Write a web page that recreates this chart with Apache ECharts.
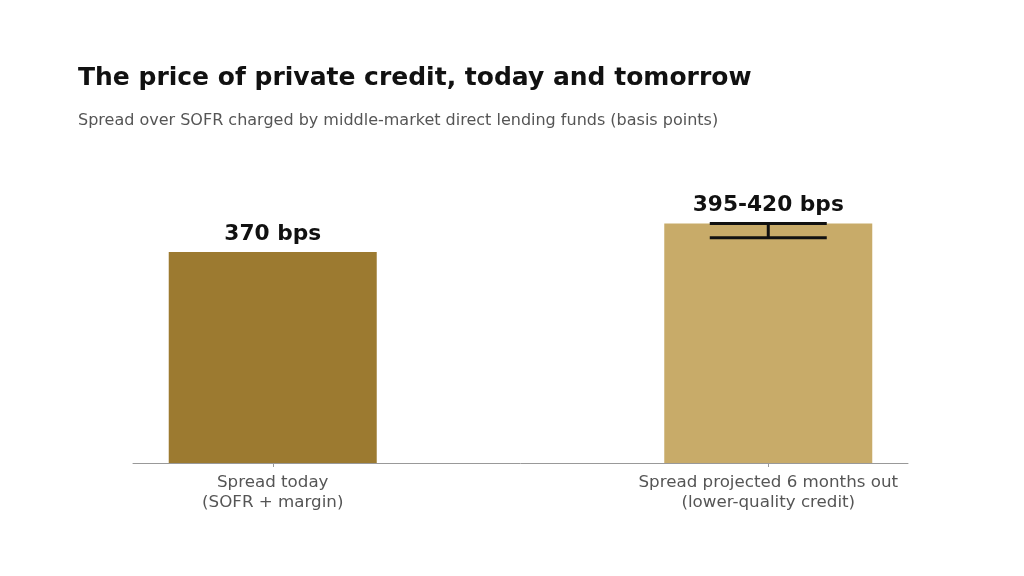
<!DOCTYPE html>
<html>
<head>
<meta charset="utf-8">
<script src="https://cdn.jsdelivr.net/npm/echarts@6/dist/echarts.min.js"></script>
<style>
  html, body { margin: 0; padding: 0; background: #fff; }
  #chart { width: 1024px; height: 576px; }
</style>
</head>
<body>
<div id="chart"></div>
<script>
// categories and values
var categories = ['Spread today\n(SOFR + margin)', 'Spread projected 6 months out\n(lower-quality credit)'];
var spreadValues = [370, 420];
var rangeLow = [null, 395];
var rangeHigh = [null, 420];
var barLabels = ['370 bps', '395-420 bps'];

var barColors = ['#9C7A30', '#C8AB69'];
var fontFamily = 'DejaVu Sans';

function initChart() {
    var myChart = echarts.init(document.getElementById('chart'));

    var barData = spreadValues.map(function (v, i) {
        return { value: [i, v], itemStyle: { color: barColors[i] } };
    });

    // error range only where a low/high pair exists
    var rangeData = [];
    for (var i = 0; i < categories.length; i++) {
        if (rangeLow[i] != null) rangeData.push([i, rangeLow[i], rangeHigh[i]]);
    }

    // small ticks under each bar centre, placed with the axis scale
    var tickData = categories.map(function (c, i) { return [i, 0]; });

    var option = {
        animation: false,
        backgroundColor: '#fff',
        textStyle: { fontFamily: fontFamily },
        title: [
            {
                text: 'The price of private credit, today and tomorrow',
                left: 73,
                top: 61,
                textStyle: { fontFamily: fontFamily, fontSize: 25, fontWeight: 'bold', color: '#111' }
            },
            {
                text: 'Spread over SOFR charged by middle-market direct lending funds (basis points)',
                left: 73,
                top: 108,
                textStyle: { fontFamily: fontFamily, fontSize: 16, fontWeight: 'normal', color: '#555' }
            }
        ],
        grid: {
            left: 133,
            right: 116,
            top: 178,
            bottom: 113
        },
        xAxis: {
            type: 'value',
            min: -0.282,
            max: 1.282,
            splitLine: { show: false },
            axisLine: { show: true, lineStyle: { color: '#999', width: 1 } },
            axisTick: { show: false },
            axisLabel: {
                customValues: [0, 1],
                formatter: function (v) { return categories[Math.round(v)]; },
                fontFamily: fontFamily,
                fontSize: 16.7,
                lineHeight: 20,
                color: '#555',
                margin: 10
            }
        },
        yAxis: {
            type: 'value',
            min: 0,
            max: 500,
            show: false,
            splitLine: { show: false }
        },
        series: [
            {
                type: 'bar',
                data: barData,
                barWidth: 208,
                label: {
                    show: true,
                    position: 'top',
                    distance: 7,
                    formatter: function (p) { return barLabels[p.dataIndex]; },
                    fontFamily: fontFamily,
                    fontSize: 21.7,
                    fontWeight: 'bold',
                    color: '#111'
                }
            },
            {
                type: 'custom',
                data: tickData,
                silent: true,
                clip: false,
                renderItem: function (params, api) {
                    var p = api.coord([api.value(0), api.value(1)]);
                    return {
                        type: 'line',
                        shape: { x1: Math.round(p[0]) + 0.5, y1: p[1], x2: Math.round(p[0]) + 0.5, y2: p[1] + 4 },
                        style: { stroke: '#999', lineWidth: 1 }
                    };
                }
            },
            {
                type: 'custom',
                data: rangeData,
                z: 10,
                renderItem: function (params, api) {
                    var lo = api.coord([api.value(0), api.value(1)]);
                    var hi = api.coord([api.value(0), api.value(2)]);
                    var half = 58.5;
                    var style = { stroke: '#111', lineWidth: 3 };
                    return {
                        type: 'group',
                        children: [
                            { type: 'line', shape: { x1: lo[0], y1: lo[1], x2: hi[0], y2: hi[1] }, style: style },
                            { type: 'line', shape: { x1: lo[0] - half, y1: lo[1], x2: lo[0] + half, y2: lo[1] }, style: style },
                            { type: 'line', shape: { x1: hi[0] - half, y1: hi[1], x2: hi[0] + half, y2: hi[1] }, style: style }
                        ]
                    };
                }
            }
        ]
    };
    myChart.setOption(option);
}

initChart();
</script>
</body>
</html>
